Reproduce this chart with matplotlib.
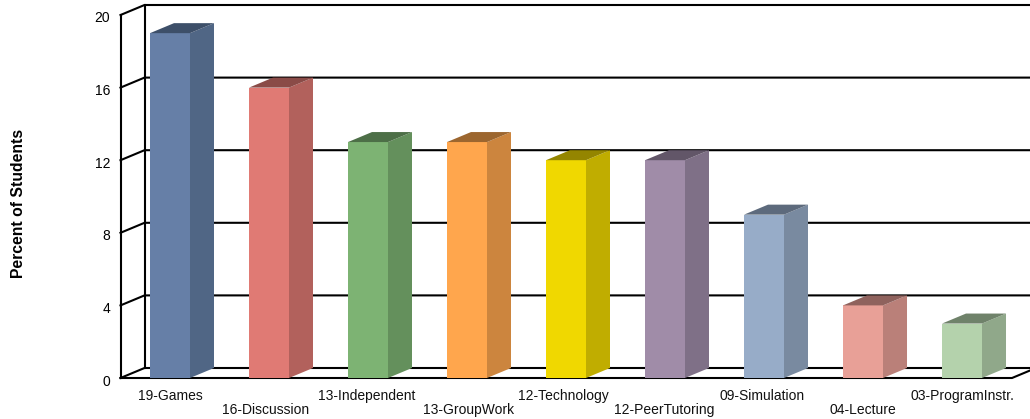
import matplotlib
matplotlib.use("Agg")
import matplotlib.pyplot as plt
from matplotlib.patches import Polygon
from matplotlib.transforms import ScaledTranslation

categories = ["19-Games", "16-Discussion", "13-Independent", "13-GroupWork", "12-Technology",
              "12-PeerTutoring", "09-Simulation", "04-Lecture", "03-ProgramInstr."]
values = [19, 16, 13, 13, 12, 12, 9, 4, 3]
front_colors = ["#667FA7", "#E07A74", "#7DB373", "#FFA64D", "#F0D800",
                "#A08CA8", "#97ACC8", "#E8A097", "#B4D2AC"]
side_colors = ["#506685", "#B2615C", "#64905C", "#CC853E", "#C0AD00",
               "#7F7087", "#798AA0", "#BA8079", "#90A88A"]
top_colors = ["#3D4F69", "#8A4B47", "#4D6F47", "#9C662F", "#948500",
              "#625668", "#5D6A7C", "#8F625D", "#6F826A"]
y_ticks = [0, 4, 8, 12, 16, 20]
label_nudge_px = [0, -3, -1, 2, -3, -1, -2, 0, 0]

W, H = 1030, 419
# oblique depth of the fake 3d, in data units
DX = 24 / 99
DY = 10 / 18.15
BAR_W = 0.404

plt.rcParams["font.family"] = ["Liberation Sans", "DejaVu Sans"]

fig = plt.figure(figsize=(W / 100, H / 100), dpi=100)
ax = fig.add_axes([120.5 / W, (H - 378) / H, 891.5 / W, 363 / H])
ax.set_xlim(-0.5, 8.505)
ax.set_ylim(0, 20)
for s in ax.spines.values():
    s.set_visible(False)
ax.patch.set_visible(False)

left, right = ax.get_xlim()
line_kw = dict(color="black", lw=1.5, clip_on=False, solid_capstyle="projecting", zorder=1)

# back wall grid, each line starts on the front edge
for t in y_ticks:
    ax.plot([left, left + DX, right + DX], [t, t + DY, t + DY], **line_kw)
ax.plot([left, left], [0, 20], **line_kw)
ax.plot([left + DX, left + DX], [DY, 20 + DY], **line_kw)
# floor
ax.plot([left, right, right + DX], [0, 0, DY], **line_kw)

for i, v in enumerate(values):
    x0 = i - BAR_W / 2
    x1 = i + BAR_W / 2
    ax.add_patch(Polygon([(x0, 0), (x1, 0), (x1, v), (x0, v)], fc=front_colors[i], ec="none", clip_on=False, zorder=3))
    ax.add_patch(Polygon([(x1, 0), (x1 + DX, DY), (x1 + DX, v + DY), (x1, v)], fc=side_colors[i], ec="none", clip_on=False, zorder=3))
    ax.add_patch(Polygon([(x0, v), (x1, v), (x1 + DX, v + DY), (x0 + DX, v + DY)], fc=top_colors[i], ec="none", clip_on=False, zorder=3))

ax.set_yticks(y_ticks)
ax.tick_params(axis="y", length=0, pad=7.5, labelsize=10)
# tick numbers sit a little under their lines
shift_down = ScaledTranslation(0, -2 / 100, fig.dpi_scale_trans)
for lab in ax.get_yticklabels():
    lab.set_transform(lab.get_transform() + shift_down)

ax.set_xticks(range(len(categories)))
ax.set_xticklabels(categories, fontsize=10, color="#111111")
ax.tick_params(axis="x", length=0, pad=0)
# staggered labels, every second one drops a row
for i, lab in enumerate(ax.get_xticklabels()):
    lab.set_verticalalignment("center")
    lab.set_y(-18 / 363 if i % 2 == 0 else -32 / 363)
    lab.set_transform(lab.get_transform() + ScaledTranslation(label_nudge_px[i] / 100, 0, fig.dpi_scale_trans))

fig.text(19 / W, 1 - 203 / H, "Percent of Students", rotation=90, fontsize=11.3, fontweight="bold",
         ha="center", va="center")

fig.savefig("out.png", dpi=100)
